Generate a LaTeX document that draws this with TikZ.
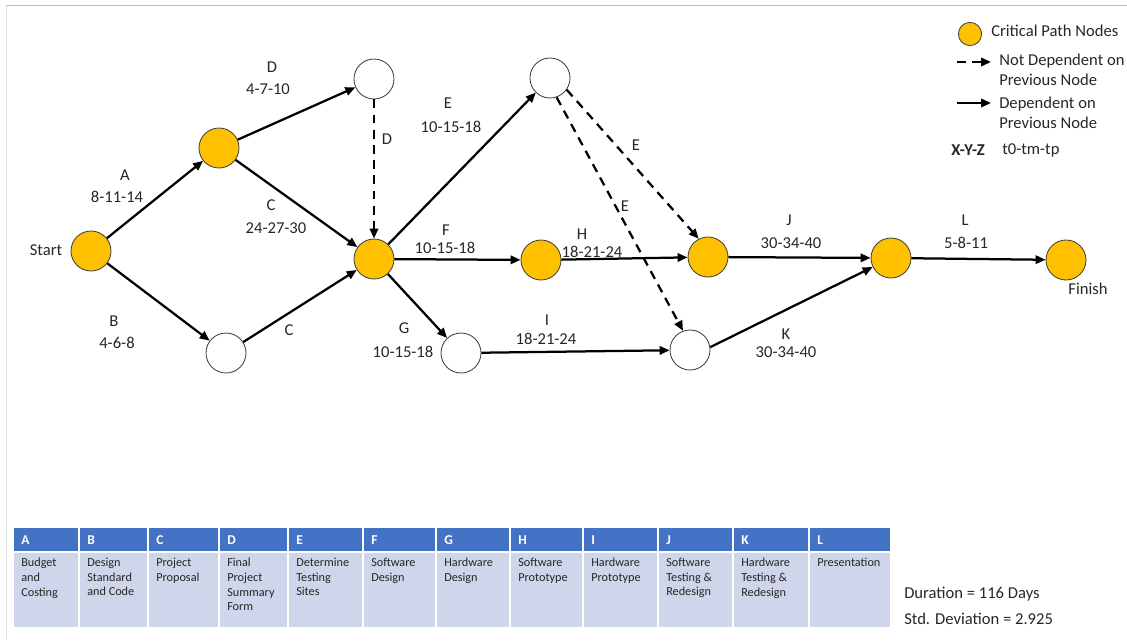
\documentclass[tikz,border=0pt]{standalone}
\usepackage{fontspec}
\setmainfont{Carlito}
\usetikzlibrary{arrows.meta}
\definecolor{critfill}{HTML}{FFC000}
\definecolor{hdrblue}{HTML}{4472C4}
\definecolor{cellblue}{HTML}{CFD5EA}
\definecolor{txtgray}{HTML}{262626}
\tikzset{
  crit/.style={circle,draw=black!75,line width=0.6pt,fill=critfill,minimum size=1cm,inner sep=0pt},
  free/.style={circle,draw=black!75,line width=0.6pt,fill=white,minimum size=1cm,inner sep=0pt},
  dep/.style={line width=1.6pt,-{Triangle[length=2.5mm,width=2.1mm]}},
  nodep/.style={dep,dash pattern=on 2.2mm off 1.6mm},
  lbl/.style={text=txtgray,font=\fontsize{11.8}{14.2}\selectfont,inner sep=0pt},
  cell/.style={text=txtgray,font=\fontsize{8.7}{10.4}\selectfont,inner sep=0pt,anchor=north west,align=left},
}
\begin{document}
\begin{tikzpicture}[x=0.025cm,y=-0.025cm]
\useasboundingbox (0,0) rectangle (1127,640);
\draw[black!12,line width=0.7pt] (6,640) -- (6,5);
\draw[black!25,line width=0.7pt] (6,5) -- (1127,5);
% events
\node[crit] (start) at (91,251) {};
\node[crit] (e1) at (219,148) {};
\node[free] (e2) at (226,353) {};
\node[free] (e3) at (374,79) {};
\node[crit] (e4) at (374,259) {};
\node[free] (e5) at (550,78) {};
\node[crit] (e6) at (541,260) {};
\node[free] (e7) at (461,353) {};
\node[crit] (e8) at (708,257) {};
\node[free] (e9) at (690,350) {};
\node[crit] (e10) at (891,258) {};
\node[crit] (finish) at (1066,260) {};
\node[lbl] at (46,250) {Start};
\node[lbl] at (1088,289) {Finish};
% activities
\draw[dep] (start) -- (e1);
\draw[dep] (start) -- (e2);
\draw[dep] (e1) -- (e3);
\draw[dep] (e1) -- (e4);
\draw[dep] (e2) -- (e4);
\draw[nodep] (e3) -- (e4);
\draw[dep] (e4) -- (e5);
\draw[dep] (e4) -- (e6);
\draw[dep] (e4) -- (e7);
\draw[nodep] (e5.-35) -- (e8.117);
\draw[nodep] (e5.-71) -- (e9.110);
\draw[dep] (e6) -- (e8);
\draw[dep] (e7) -- (e9);
\draw[dep] (e8) -- (e10);
\draw[dep] (e9.8) -- (e10);
\draw[dep] (e10) -- (finish);
\path[every node/.style={lbl}]
    (125,175) node{A} (117,197) node{8-11-14}
    (114,321) node{B} (117,343) node{4-6-8}
    (272,67) node{D} (268,89) node{4-7-10}
    (271,205) node{C} (276,228) node{24-27-30}
    (289,330) node{C}
    (387,139) node{D}
    (448,103) node{E} (451,127) node{10-15-18}
    (446,230) node{F} (445,248) node{10-15-18}
    (582,234) node{H} (592,252) node{18-21-24}
    (404,328) node{G} (403,352) node{10-15-18}
    (547,320) node{I} (546,339) node{18-21-24}
    (636,145) node{E} (625,206) node{E}
    (789,220) node{J} (791,243) node{30-34-40}
    (965,220) node{L} (966,243) node{5-8-11}
    (786,334) node{K} (786,352) node{30-34-40};
% legend
\node[crit,minimum size=0.58cm] (lgcrit) at (970,34) {};
\node[lbl,anchor=west] at (991,31) {Critical Path Nodes};
\coordinate (lgn1) at (957,62);
\coordinate (lgn2) at (991,62);
\draw[nodep] (lgn1) -- (lgn2);
\node[lbl,anchor=west,align=left] at (999,70) {Not Dependent on\\Previous Node};
\coordinate (lgd1) at (957,103);
\coordinate (lgd2) at (991,103);
\draw[dep] (lgd1) -- (lgd2);
\node[lbl,anchor=west,align=left] at (999,113) {Dependent on\\Previous Node};
\node[lbl,anchor=west] at (951,150) {\bfseries X-Y-Z};
\node[lbl,anchor=west] at (1002,150) {t0-tm-tp};
% table
\foreach \c/\xl/\xr/\txt in {A/13/79/{Budget\\and\\Costing},B/79/148/{Design\\Standard\\and Code},
    C/148/219/{Project\\Proposal},D/219/288/{Final\\Project\\Summary\\Form},
    E/288/363/{Determine\\Testing\\Sites},F/363/436/{Software\\Design},
    G/436/510/{Hardware\\Design},H/510/583/{Software\\Prototype},
    I/583/658/{Hardware\\Prototype},J/658/733/{Software\\Testing \&\\Redesign},
    K/733/809/{Hardware\\Testing \&\\Redesign},L/809/891/{Presentation}}
{
  \fill[hdrblue] (\xl+1,528) rectangle (\xr-1,551);
  \fill[cellblue] (\xl+1,553) rectangle (\xr-1,627);
  \node[cell,anchor=west,text=white,font=\fontsize{9.6}{11}\selectfont\bfseries] at (\xl+8,540) {\c};
  \node[cell] at (\xl+8,558) {\txt};
}
\node[lbl,anchor=west] at (904,594) {Duration = 116 Days};
\node[lbl,anchor=west] at (904,619) {Std. Deviation = 2.925};
\end{tikzpicture}
\end{document}
